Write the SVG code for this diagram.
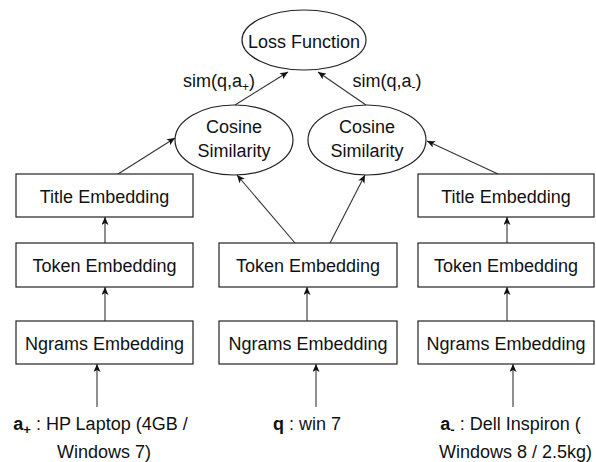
<svg xmlns="http://www.w3.org/2000/svg" width="596" height="462" viewBox="0 0 596 462">
<style>
text{font-family:"Liberation Sans",Arial,Helvetica,sans-serif;font-size:18px;fill:#111;text-anchor:middle}
.n{fill:#fff;stroke:#222;stroke-width:1.2}
.c{stroke:#333;stroke-width:1.1;fill:none;marker-end:url(#ah)}
.b{font-weight:bold}
</style>
<defs>
<marker id="ah" markerUnits="userSpaceOnUse" markerWidth="8" markerHeight="7" viewBox="0 0 8 7" refX="8" refY="3.5" orient="auto">
<path d="M0,0 L8,3.5 L0,7 L2,3.5 z" fill="#111"/>
</marker>
</defs>
<rect width="596" height="462" fill="#fff"/>
<g id="connectors">
<line class="c" x1="235" y1="105" x2="288" y2="72"/>
<line class="c" x1="366" y1="105" x2="318" y2="72"/>
<line class="c" x1="118" y1="174" x2="175" y2="138"/>
<line class="c" x1="295" y1="243" x2="237" y2="175"/>
<line class="c" x1="330" y1="243" x2="365" y2="175"/>
<line class="c" x1="498" y1="174" x2="427" y2="141"/>
<line class="c" x1="105" y1="243" x2="105" y2="217"/>
<line class="c" x1="105" y1="321" x2="105" y2="287"/>
<line class="c" x1="307" y1="321" x2="307" y2="287"/>
<line class="c" x1="507" y1="243" x2="507" y2="217"/>
<line class="c" x1="507" y1="321" x2="507" y2="287"/>
<line class="c" x1="97" y1="407" x2="97" y2="364"/>
<line class="c" x1="316" y1="407" x2="316" y2="364"/>
<line class="c" x1="513" y1="407" x2="513" y2="364"/>
<text x="219" y="87">sim(q,a<tspan font-size="12" dy="4">+</tspan><tspan dy="-4">)</tspan></text>
<text x="387" y="87">sim(q,a<tspan font-size="12" dy="4">-</tspan><tspan dy="-4">)</tspan></text>
</g>
<g id="loss">
<ellipse class="n" cx="304" cy="40" rx="62" ry="30"/>
<text x="304" y="48">Loss Function</text>
</g>
<g id="cos-left">
<ellipse class="n" cx="234" cy="140" rx="59" ry="35"/>
<text x="234" y="133">Cosine</text>
<text x="234" y="157">Similarity</text>
</g>
<g id="cos-right">
<ellipse class="n" cx="367" cy="140" rx="59" ry="35"/>
<text x="367" y="133">Cosine</text>
<text x="367" y="157">Similarity</text>
</g>
<g id="title-left">
<rect class="n" x="16" y="174" width="177" height="43"/>
<text x="104.5" y="203">Title Embedding</text>
</g>
<g id="token-left">
<rect class="n" x="16" y="243" width="177" height="44"/>
<text x="104.5" y="272">Token Embedding</text>
</g>
<g id="ngrams-left">
<rect class="n" x="16" y="321" width="177" height="43"/>
<text x="104.5" y="350">Ngrams Embedding</text>
</g>
<g id="token-mid">
<rect class="n" x="219" y="243" width="178" height="44"/>
<text x="308" y="272">Token Embedding</text>
</g>
<g id="ngrams-mid">
<rect class="n" x="219" y="321" width="178" height="43"/>
<text x="308" y="350">Ngrams Embedding</text>
</g>
<g id="title-right">
<rect class="n" x="418" y="174" width="176" height="43"/>
<text x="506" y="203">Title Embedding</text>
</g>
<g id="token-right">
<rect class="n" x="418" y="243" width="176" height="44"/>
<text x="506" y="272">Token Embedding</text>
</g>
<g id="ngrams-right">
<rect class="n" x="418" y="321" width="176" height="43"/>
<text x="506" y="350">Ngrams Embedding</text>
</g>
<g id="input-apos">
<text x="100.5" y="430"><tspan class="b">a</tspan><tspan class="b" font-size="13" dy="4">+</tspan><tspan dy="-4"> : HP Laptop (4GB /</tspan></text>
<text x="104" y="458">Windows 7)</text>
</g>
<g id="input-q">
<text x="307" y="430"><tspan class="b">q</tspan> : win 7</text>
</g>
<g id="input-aneg">
<text x="510.5" y="430"><tspan class="b">a</tspan><tspan class="b" font-size="13" dy="4">-</tspan><tspan dy="-4"> : Dell Inspiron (</tspan></text>
<text x="515.5" y="458">Windows 8 / 2.5kg)</text>
</g>
</svg>
